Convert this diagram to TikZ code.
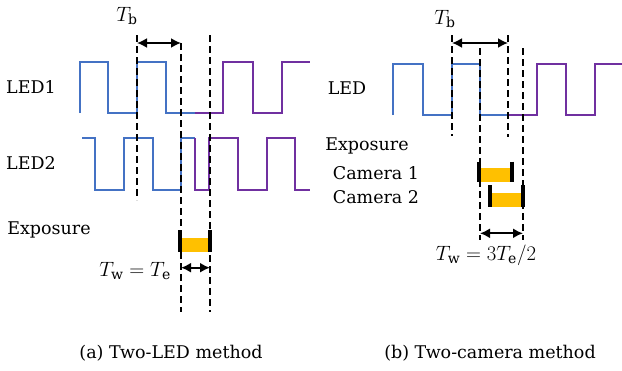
\documentclass[tikz,border=0pt]{standalone}
\usepackage{fontspec}
\setmainfont{DejaVu Serif}
\usetikzlibrary{arrows.meta}
\definecolor{ledblue}{HTML}{4472C4}
\definecolor{ledpurple}{HTML}{7030A0}
\definecolor{expo}{HTML}{FFC000}
\begin{document}
\begin{tikzpicture}[x=1pt,y=-1pt,
  wave/.style={line width=2pt, line join=miter},
  guide/.style={line width=2pt, dash pattern=on 7pt off 4pt},
  dim/.style={line width=1.8pt, {Latex[length=10pt,width=10pt]}-{Latex[length=10pt,width=10pt]}},
  lbl/.style={font=\fontsize{17.5}{21}\selectfont, inner sep=0pt},
  mlbl/.style={font=\fontsize{20}{24}\selectfont, inner sep=0pt},
  tick/.style={line width=4pt},
  bar/.style={fill=expo, draw=none}
]
\useasboundingbox (0,0) rectangle (622,370);

% ---------------- (a) Two-LED method ----------------
% LED1
\draw[wave, ledblue] (80,113) -- (80,62) -- (108,62) -- (108,113) -- (137,113) -- (137,62) -- (166,62) -- (166,113) -- (195,113);
\draw[wave, ledpurple] (195,113) -- (223,113) -- (223,62) -- (253,62) -- (253,113) -- (282,113) -- (282,62) -- (310,62);
% LED2
\draw[wave, ledblue] (82,138) -- (95,138) -- (95,190) -- (124,190) -- (124,138) -- (153,138) -- (153,190) -- (181,190) -- (181,138) -- (195,138);
\draw[wave, ledpurple] (195,138) -- (195,190) -- (209,190) -- (209,138) -- (238,138) -- (238,190) -- (267,190) -- (267,138) -- (295,138) -- (295,190) -- (310,190);

% guides
\coordinate (a1t) at (137,35);  \coordinate (a1b) at (137,200);
\coordinate (a2t) at (181,43); \coordinate (a2b) at (181,312);
\coordinate (a3t) at (210,35);  \coordinate (a3b) at (210,312);
\draw[guide] (a1t) -- (a1b);
\draw[guide] (a2t) -- (a2b);
\draw[guide] (a3t) -- (a3b);

% Tb arrow
\coordinate (atbL) at (137,43); \coordinate (atbR) at (181,43);
\draw[dim] (atbL) -- (atbR);
\node[mlbl] (atb) at (127,16) {$T_{\mathrm{b}}$};

% exposure bar
\fill[bar] (181.7,237.7) rectangle (207.7,251.5);
\coordinate (aeLt) at (180,230); \coordinate (aeLb) at (180,251.7);
\coordinate (aeRt) at (209.7,230); \coordinate (aeRb) at (209.7,251.7);
\draw[tick] (aeLt) -- (aeLb);
\draw[tick] (aeRt) -- (aeRb);

% Tw arrow
\coordinate (atwL) at (181,267.7); \coordinate (atwR) at (210,267.7);
\draw[dim] (atwL) -- (atwR);
\node[mlbl, anchor=east] (atw) at (171,271) {$T_{\mathrm{w}}=T_{\mathrm{e}}$};

% labels
\node[lbl] (led1) at (31,87) {LED1};
\node[lbl] (led2) at (31,163) {LED2};
\node[lbl] (aexp) at (49,230) {Exposure};
\node[lbl] (capa) at (171,353) {(a) Two-LED method};

% ---------------- (b) Two-camera method ----------------
\draw[wave, ledblue] (393,115) -- (393,64) -- (423,64) -- (423,115) -- (452,115) -- (452,64) -- (480,64) -- (480,115) -- (508,115);
\draw[wave, ledpurple] (508,115) -- (537,115) -- (537,64) -- (566,64) -- (566,115) -- (595,115) -- (595,64) -- (622,64);

\coordinate (b1t) at (452,35);  \coordinate (b1b) at (452,136);
\coordinate (b2t) at (480,48); \coordinate (b2b) at (480,240);
\coordinate (b3t) at (508,35);  \coordinate (b3b) at (508,137);
\coordinate (b4t) at (523,48);  \coordinate (b4b) at (523,240);
\draw[guide] (b1t) -- (b1b);
\draw[guide] (b2t) -- (b2b);
\draw[guide] (b3t) -- (b3b);
\draw[guide] (b4t) -- (b4b);

\coordinate (btbL) at (452,43); \coordinate (btbR) at (508,43);
\draw[dim] (btbL) -- (btbR);
\node[mlbl] (btb) at (445,19) {$T_{\mathrm{b}}$};

% camera 1 bar
\fill[bar] (480.7,168.3) rectangle (510.5,181.7);
\coordinate (c1Lt) at (478.7,161.7); \coordinate (c1Lb) at (478.7,181.7);
\coordinate (c1Rt) at (512,161.7); \coordinate (c1Rb) at (512,181.7);
\draw[tick] (c1Lt) -- (c1Lb);
\draw[tick] (c1Rt) -- (c1Rb);

% camera 2 bar
\fill[bar] (492.3,192.7) rectangle (521.5,206.7);
\coordinate (c2Lt) at (490.3,185); \coordinate (c2Lb) at (490.3,206.7);
\coordinate (c2Rt) at (523,185); \coordinate (c2Rb) at (523,206.7);
\draw[tick] (c2Lt) -- (c2Lb);
\draw[tick] (c2Rt) -- (c2Rb);

\coordinate (btwL) at (480,233.3); \coordinate (btwR) at (523,233.3);
\draw[dim] (btwL) -- (btwR);
\node[mlbl] (btw) at (486,255) {$T_{\mathrm{w}}=3T_{\mathrm{e}}/2$};

\node[lbl] (ledb) at (347,88) {LED};
\node[lbl] (bexp) at (367,146) {Exposure};
\node[lbl] (cam1) at (376,173) {Camera 1};
\node[lbl] (cam2) at (376,197) {Camera 2};
\node[lbl] (capb) at (490,353) {(b) Two-camera method};
\end{tikzpicture}
\end{document}
